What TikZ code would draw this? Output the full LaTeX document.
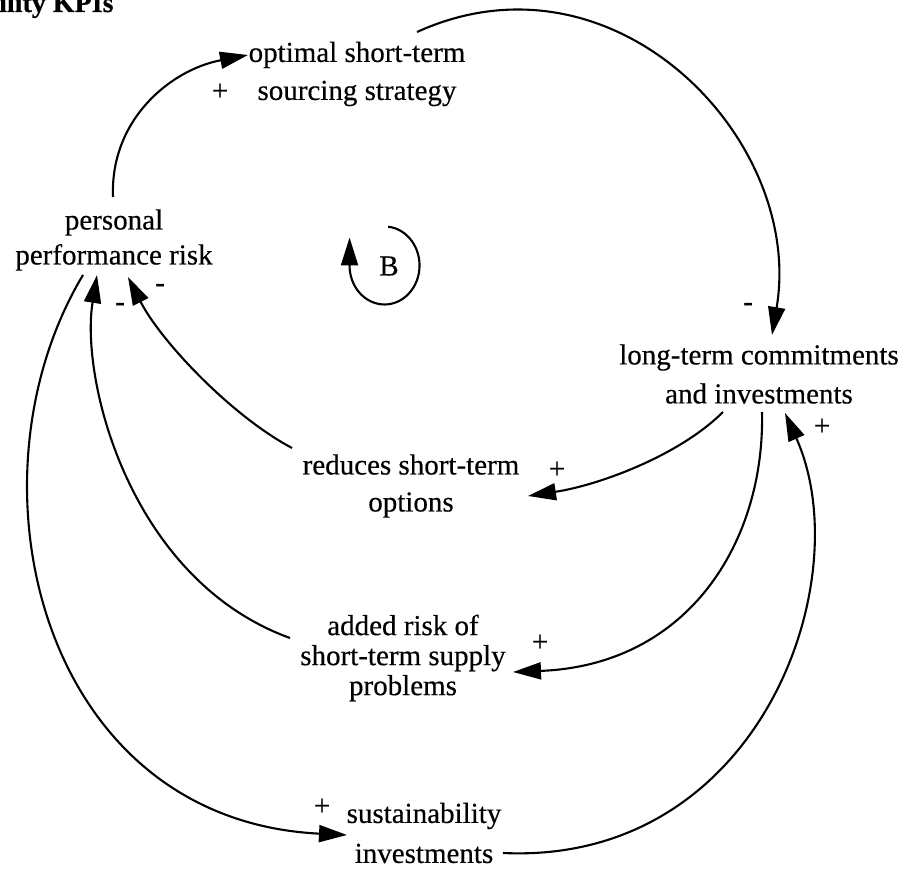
\documentclass[tikz,border=0pt]{standalone}
\usepackage{fontspec}
\setmainfont[FakeBold=0.4]{Liberation Serif}
\usetikzlibrary{arrows.meta}
\begin{document}
\begin{tikzpicture}[x=1pt,y=-1pt,
  var/.style={inner sep=0pt, align=center},
  sign/.style={inner sep=0pt, font=\fontsize{29}{34}\selectfont},
  link/.style={line width=2.1pt, -{Triangle[length=28pt,width=17pt]}},
]
\useasboundingbox (0,0) rectangle (906,872);

% heading, cut off by the page edge
\node[anchor=base west, inner sep=0pt, font=\fontsize{28}{34}\selectfont\bfseries] (title) at (-1,12) {ility KPIs};

% variables
\node[var, font=\fontsize{29}{38}\selectfont] (opt) at (357,74) {optimal short-term\\sourcing strategy};
\node[var, font=\fontsize{29}{35}\selectfont] (ppr) at (114,240) {personal\\performance risk};
\node[var, font=\fontsize{29}{39}\selectfont] (lt)  at (759,374) {long-term commitments\\and investments};
\node[var, font=\fontsize{29}{37}\selectfont] (red) at (411,486) {reduces short-term\\options};
\node[var, font=\fontsize{29}{30}\selectfont] (add) at (403,658) {added risk of\\short-term supply\\problems};
\node[var, font=\fontsize{29}{40}\selectfont] (sus) at (424,833) {sustainability\\investments};

% causal links
\draw[link] ([shift={(-1,-43)}]ppr.center) .. controls (110,120) and (170,70) .. ([shift={(-109,-19)}]opt.center);
\draw[link] ([shift={(60,-42)}]opt.center) .. controls (615,-58) and (805,140) .. ([shift={(13,-39)}]lt.center);
\draw[link] ([shift={(-36,38)}]lt.center) .. controls (680,455) and (600,485) .. ([shift={(117,10)}]red.center);
\draw[link] ([shift={(3,38)}]lt.center) .. controls (765,540) and (690,665) .. ([shift={(110,14)}]add.center);
\draw[link] ([shift={(79,20)}]sus.center) .. controls (760,865) and (860,580) .. ([shift={(26,39)}]lt.center);
\draw[link] ([shift={(-119,-38)}]red.center) .. controls (230,415) and (160,340) .. ([shift={(14,37)}]ppr.center);
\draw[link] ([shift={(-113,-20)}]add.center) .. controls (130,580) and (80,380) .. ([shift={(-17,35)}]ppr.center);
\draw[link] ([shift={(-31,35)}]ppr.center) .. controls (-40,480) and (40,820) .. ([shift={(-77,2)}]sus.center);

% link polarities
\node[sign] (s1) at (220,92) {+};
\node[sign] (s2) at (748,307) {-};
\node[sign] (s3) at (557,470) {+};
\node[sign] (s4) at (540,643) {+};
\node[sign] (s5) at (822,427) {+};
\node[sign] (s6) at (160,288) {-};
\node[sign] (s7) at (120,307) {-};
\node[sign] (s8) at (322,807) {+};

% balancing loop marker
\node[sign] (bsym) at (389,266) {B};
\draw[link] ([shift={(-0.8,-39.3)}]bsym.center) arc[start angle=-84, end angle=180, x radius=35, y radius=39] -- ++(0,-28);
\end{tikzpicture}
\end{document}
